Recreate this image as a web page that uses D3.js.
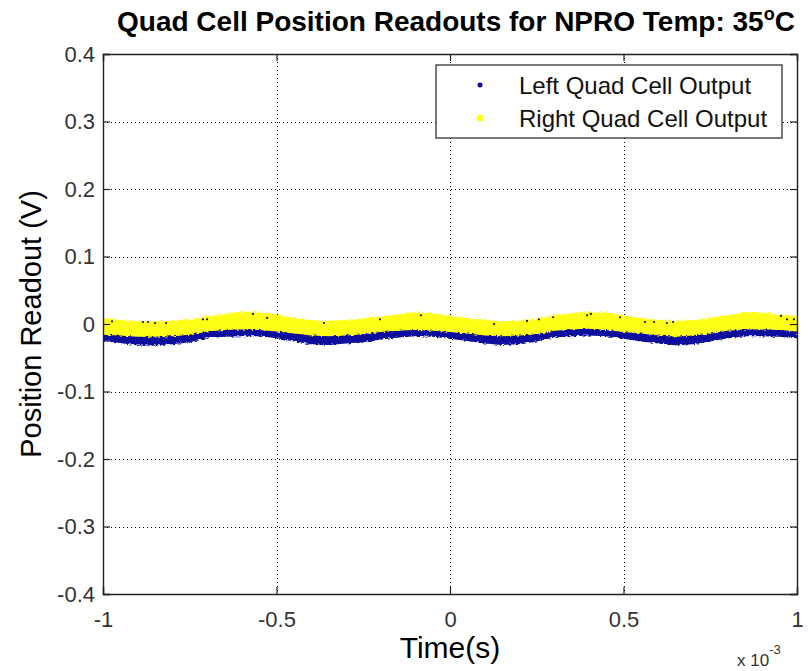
<!DOCTYPE html>
<html>
<head>
<meta charset="utf-8">
<script src="https://cdn.jsdelivr.net/npm/d3@7"></script>
<style>
  body { margin: 0; background: #fff; }
  svg { display: block; font-family: Arial, "Liberation Sans", Helvetica, sans-serif; }
</style>
</head>
<body>
<svg id="chart" width="808" height="671"></svg>
<script>
const times = [-1.00, -0.95, -0.90, -0.85, -0.80, -0.75, -0.70, -0.65, -0.60, -0.55,
               -0.50, -0.45, -0.40, -0.35, -0.30, -0.25, -0.20, -0.15, -0.10, -0.05,
                0.00, 0.05, 0.10, 0.15, 0.20, 0.25, 0.30, 0.35, 0.40, 0.45,
                0.50, 0.55, 0.60, 0.65, 0.70, 0.75, 0.80, 0.85, 0.90, 0.95, 1.00];

// Right quad cell (yellow) - top and bottom of the point cloud (V)
const rightTop = [0.009, 0.006, 0.004, 0.004, 0.005, 0.007, 0.012, 0.015, 0.018, 0.018,
                  0.014, 0.009, 0.006, 0.005, 0.006, 0.008, 0.011, 0.014, 0.017, 0.016,
                  0.012, 0.009, 0.006, 0.004, 0.005, 0.008, 0.013, 0.016, 0.018, 0.017,
                  0.012, 0.009, 0.006, 0.004, 0.006, 0.009, 0.013, 0.017, 0.017, 0.014, 0.011];
const rightBottom = [-0.016, -0.017, -0.019, -0.019, -0.018, -0.016, -0.011, -0.009, -0.008, -0.009,
                     -0.011, -0.014, -0.017, -0.018, -0.017, -0.015, -0.012, -0.010, -0.009, -0.010,
                     -0.012, -0.014, -0.017, -0.018, -0.017, -0.015, -0.010, -0.008, -0.007, -0.009,
                     -0.012, -0.014, -0.017, -0.019, -0.017, -0.014, -0.010, -0.008, -0.008, -0.009, -0.011];

// Left quad cell (blue) - top and bottom of the point cloud (V)
const leftTop = [-0.010, -0.011, -0.013, -0.013, -0.012, -0.010, -0.005, -0.003, -0.002, -0.003,
                 -0.005, -0.008, -0.011, -0.012, -0.011, -0.009, -0.006, -0.004, -0.003, -0.004,
                 -0.006, -0.008, -0.011, -0.012, -0.011, -0.009, -0.004, -0.002, -0.001, -0.003,
                 -0.006, -0.008, -0.011, -0.013, -0.011, -0.008, -0.004, -0.002, -0.002, -0.003, -0.005];
const leftBottom = [-0.025, -0.028, -0.032, -0.032, -0.030, -0.027, -0.021, -0.019, -0.018, -0.018,
                    -0.021, -0.026, -0.030, -0.031, -0.029, -0.027, -0.023, -0.020, -0.018, -0.019,
                    -0.022, -0.025, -0.029, -0.031, -0.030, -0.026, -0.020, -0.018, -0.017, -0.018,
                    -0.022, -0.026, -0.029, -0.032, -0.030, -0.026, -0.021, -0.018, -0.018, -0.019, -0.021];

// stray left-cell points sitting on the yellow cloud
const strayT = [-0.974, -0.885, -0.870, -0.850, -0.818, -0.712, -0.700, -0.568, -0.527, -0.363,
                -0.202, -0.084, 0.127, 0.222, 0.256, 0.297, 0.395, 0.406, 0.490, 0.562,
                0.588, 0.625, 0.643, 0.954, 0.971, 0.991];
const strayV = [0.004, 0.003, 0.003, 0.0015, 0.0015, 0.007, 0.007, 0.015, 0.009, 0.0015,
                0.007, 0.013, 0.000, 0.0045, 0.007, 0.010, 0.013, 0.015, 0.010, 0.003,
                0.003, 0.0015, 0.003, 0.012, 0.007, 0.007];

const xTicks = [-1, -0.5, 0, 0.5, 1];
const xTickLabels = ["-1", "-0.5", "0", "0.5", "1"];
const yTicks = [-0.4, -0.3, -0.2, -0.1, 0, 0.1, 0.2, 0.3, 0.4];
const yTickLabels = ["-0.4", "-0.3", "-0.2", "-0.1", "0", "0.1", "0.2", "0.3", "0.4"];

const seriesNames = ["Left Quad Cell Output", "Right Quad Cell Output"];
const seriesColors = ["#0a0a9e", "#ffff14"];

const svg = d3.select("#chart"),
    margin = {top: 54, right: 11, bottom: 77, left: 103},
    width = +svg.attr("width") - margin.left - margin.right,
    height = +svg.attr("height") - margin.top - margin.bottom,
    g = svg.append("g").attr("transform", `translate(${margin.left},${margin.top})`);

const x = d3.scaleLinear().domain([-1, 1]).range([0, width]);
const y = d3.scaleLinear().domain([-0.4, 0.4]).range([height, 0]);

// rough edges for the dense point clouds
const defs = svg.append("defs");
const rough = defs.append("filter").attr("id", "rough")
    .attr("x", "-2%").attr("y", "-50%").attr("width", "104%").attr("height", "200%");
rough.append("feTurbulence").attr("type", "fractalNoise")
    .attr("baseFrequency", "0.35 0.6").attr("numOctaves", 2).attr("seed", 4).attr("result", "n");
rough.append("feDisplacementMap").attr("in", "SourceGraphic").attr("in2", "n")
    .attr("scale", 4).attr("xChannelSelector", "R").attr("yChannelSelector", "G");
defs.append("clipPath").attr("id", "plotClip")
    .append("rect").attr("width", width).attr("height", height);

// grid
const grid = g.append("g").attr("stroke", "#000").attr("stroke-width", 1).attr("stroke-dasharray", "1,3");
grid.selectAll(".gx").data(xTicks.slice(1, -1)).join("line")
    .attr("x1", d => Math.round(x(d)) + 0.5).attr("x2", d => Math.round(x(d)) + 0.5)
    .attr("y1", 0).attr("y2", height);
grid.selectAll(".gy").data(yTicks.slice(1, -1)).join("line")
    .attr("y1", d => Math.round(y(d)) + 0.5).attr("y2", d => Math.round(y(d)) + 0.5)
    .attr("x1", 0).attr("x2", width);

// point clouds as bands
const band = (top, bottom) => d3.area()
    .x((d, i) => x(times[i]))
    .y0((d, i) => y(bottom[i]))
    .y1((d, i) => y(top[i]));

const clouds = g.append("g").attr("clip-path", "url(#plotClip)")
    .append("g").attr("filter", "url(#rough)");
clouds.append("path").datum(times)
    .attr("fill", seriesColors[0])
    .attr("d", band(leftTop, leftBottom));
clouds.append("path").datum(times)
    .attr("fill", seriesColors[1])
    .attr("d", band(rightTop, rightBottom));

g.append("g").selectAll("circle").data(strayT).join("circle")
    .attr("cx", d => x(d))
    .attr("cy", (d, i) => y(strayV[i]))
    .attr("r", 1.1)
    .attr("fill", "#14146e");

// axes, ticks inward on all four sides
const fmtX = d => xTickLabels[xTicks.indexOf(d)];
const fmtY = d => yTickLabels[yTicks.indexOf(d)];

const axB = g.append("g").attr("transform", `translate(0,${height})`)
    .call(d3.axisBottom(x).tickValues(xTicks).tickFormat(fmtX).tickSize(-7).tickPadding(14));
const axT = g.append("g")
    .call(d3.axisTop(x).tickValues(xTicks).tickFormat("").tickSize(-7));
const axL = g.append("g")
    .call(d3.axisLeft(y).tickValues(yTicks).tickFormat(fmtY).tickSize(-7).tickPadding(8));
const axR = g.append("g").attr("transform", `translate(${width},0)`)
    .call(d3.axisRight(y).tickValues(yTicks).tickFormat("").tickSize(-7));

[axB, axT, axL, axR].forEach(a => {
    a.select(".domain").attr("stroke", "#222").attr("stroke-width", 1.4);
    a.selectAll(".tick line").attr("stroke", "#222").attr("stroke-width", 1.2);
    a.selectAll(".tick text").attr("fill", "#333")
        .style("font-size", "22px").style("font-family", "Arial, 'Liberation Sans', sans-serif");
});
axB.selectAll(".tick text").attr("dy", "0.85em");

// exponent
const ex = svg.append("text").attr("x", 737).attr("y", 666).attr("fill", "#333")
    .style("font-size", "17px");
ex.append("tspan").text("x 10");
ex.append("tspan").attr("dy", -12).style("font-size", "13px").text("-3");

// axis labels
svg.append("text")
    .attr("x", x(0) + margin.left)
    .attr("y", 658)
    .attr("text-anchor", "middle")
    .style("font-size", "30px")
    .text("Time(s)");

svg.append("text")
    .attr("transform", `translate(41,${margin.top + height / 2}) rotate(-90)`)
    .attr("text-anchor", "middle")
    .style("font-size", "29px")
    .text("Position Readout (V)");

// title
const title = svg.append("text")
    .attr("x", 117)
    .attr("y", 31)
    .style("font-size", "28px")
    .style("font-weight", "bold");
title.append("tspan").text("Quad Cell Position Readouts for NPRO Temp: 35");
title.append("tspan").attr("dy", -11).style("font-size", "18px").text("o");
title.append("tspan").attr("dy", 11).text("C");

// legend
const lg = svg.append("g").attr("transform", "translate(436,65)");
lg.append("rect").attr("width", 346).attr("height", 73)
    .attr("fill", "#fff").attr("stroke", "#222").attr("stroke-width", 1.2);
seriesNames.forEach((name, i) => {
    const row = lg.append("g").attr("transform", `translate(0,${20 + i * 33})`);
    row.append("circle").attr("cx", 44).attr("cy", 0).attr("r", i ? 3.5 : 2.5)
        .attr("fill", seriesColors[i]);
    row.append("text").attr("x", 83).attr("y", 9)
        .style("font-size", "24px").attr("fill", "#111")
        .text(name);
});
</script>
</body>
</html>
